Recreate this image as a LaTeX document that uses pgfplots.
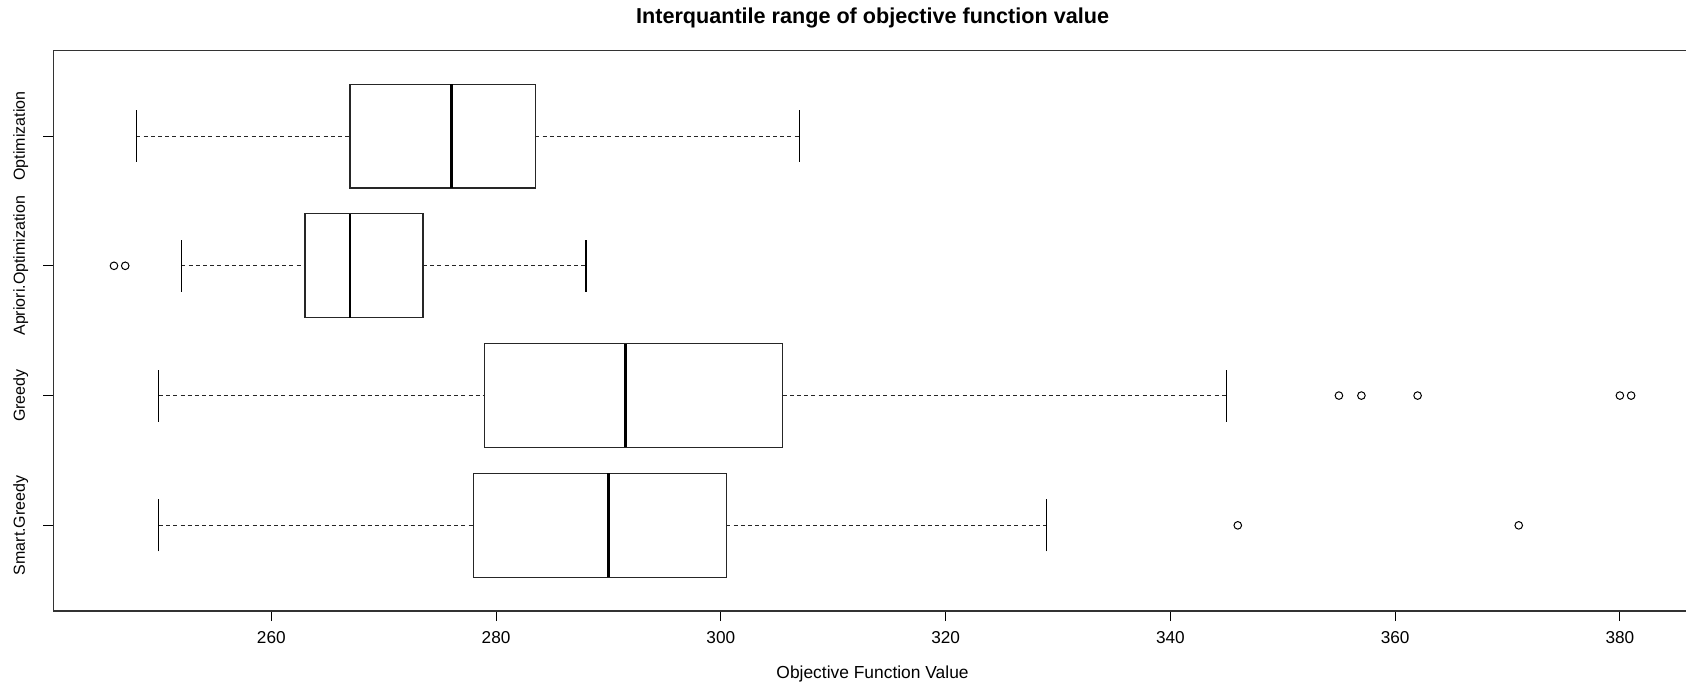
\documentclass[border=0pt]{standalone}
\usepackage{pgfplots}
\pgfplotsset{compat=1.18}
\usepgfplotslibrary{statistics}
\usepackage{fontspec}
\setmainfont{Liberation Sans}

\begin{document}
\begin{tikzpicture}
\begin{axis}[
  at={(0,0)}, anchor=south west,
  scale only axis,
  width=819.25pt, height=280.3pt,
  xmin=240.6, xmax=386.4,
  ymin=0.34, ymax=4.66,
  axis line style={line width=0.6pt, black!80},
  tick align=outside, tick pos=left,
  major tick length=5pt,
  tick style={line width=0.5pt, black},
  xtick={260,280,300,320,340,360,380},
  ytick={1,2,3,4},
  yticklabels={Smart.Greedy, Greedy, Apriori.Optimization, Optimization},
  /pgf/number format/assume math mode=true,
  x tick label style={font=\fontsize{8.6}{10}\selectfont, anchor=base},
  xticklabel shift=11.15pt,
  y tick label style={font=\fontsize{8}{9}\selectfont, rotate=90, anchor=base},
  yticklabel shift=9.25pt,
  title={Interquantile range of objective function value},
  title style={font=\fontsize{10.8}{12}\selectfont\bfseries, at={(axis description cs:0.5,1)}, anchor=base, yshift=7.3pt},
  xlabel={Objective Function Value},
  xlabel style={font=\fontsize{8.7}{10}\selectfont, at={(axis description cs:0.5,0)}, anchor=base, yshift=-33.5pt},
  boxplot/draw direction=x,
  boxplot/every whisker/.style={dash pattern=on 2pt off 1.6pt, line width=0.5pt, black},
  boxplot/every median/.style={line width=1.4pt, black},
  boxplot/every box/.style={line width=0.55pt, black!85, fill=white},
  boxplot/draw/lower whisker/.code={%
    \draw[dash pattern=on 2pt off 1.6pt, line width=0.5pt, black!85]
      (boxplot box cs:\pgfplotsboxplotvalue{lower whisker},0.5) --
      (boxplot box cs:\pgfplotsboxplotvalue{lower quartile},0.5);
    \draw[line width=0.55pt, black]
      (boxplot whisker cs:\pgfplotsboxplotvalue{lower whisker},0) --
      (boxplot whisker cs:\pgfplotsboxplotvalue{lower whisker},1);
  },
  boxplot/draw/upper whisker/.code={%
    \draw[dash pattern=on 2pt off 1.6pt, line width=0.5pt, black!85]
      (boxplot box cs:\pgfplotsboxplotvalue{upper quartile},0.5) --
      (boxplot box cs:\pgfplotsboxplotvalue{upper whisker},0.5);
    \draw[line width=0.55pt, black]
      (boxplot whisker cs:\pgfplotsboxplotvalue{upper whisker},0) --
      (boxplot whisker cs:\pgfplotsboxplotvalue{upper whisker},1);
  },
]
% Smart.Greedy
\addplot[black, mark=o, mark size=1.9pt, mark options={line width=0.5pt, solid},
  boxplot prepared={draw position=1, lower whisker=250, lower quartile=278,
    median=290, upper quartile=300.5, upper whisker=329,
    box extend=0.8, whisker extend=0.4}]
  coordinates {(346,346) (371,371)};
% Greedy
\addplot[black, mark=o, mark size=1.9pt, mark options={line width=0.5pt, solid},
  boxplot prepared={draw position=2, lower whisker=250, lower quartile=279,
    median=291.5, upper quartile=305.5, upper whisker=345,
    box extend=0.8, whisker extend=0.4}]
  coordinates {(355,355) (357,357) (362,362) (380,380) (381,381)};
% Apriori.Optimization
\addplot[black, mark=o, mark size=1.9pt, mark options={line width=0.5pt, solid},
  boxplot prepared={draw position=3, lower whisker=252, lower quartile=263,
    median=267, upper quartile=273.5, upper whisker=288,
    box extend=0.8, whisker extend=0.4}]
  coordinates {(246,246) (247,247)};
% Optimization
\addplot[black, mark=o, mark size=1.9pt, mark options={line width=0.5pt, solid},
  boxplot prepared={draw position=4, lower whisker=248, lower quartile=267,
    median=276, upper quartile=283.5, upper whisker=307,
    box extend=0.8, whisker extend=0.4}]
  coordinates {};
\end{axis}
\pgfresetboundingbox
\path[use as bounding box] (-26.65pt,-35pt) rectangle (816.35pt,305.5pt);
\end{tikzpicture}
\end{document}
